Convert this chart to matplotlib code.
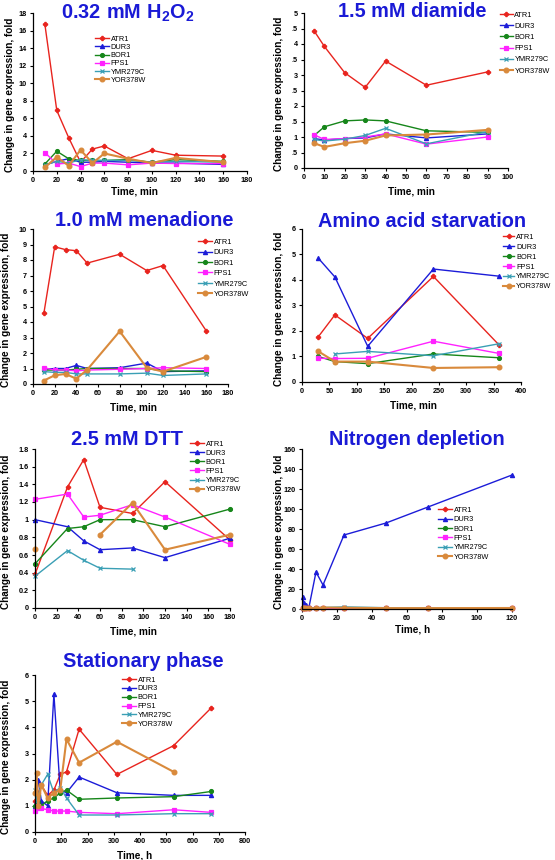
import numpy as np
import matplotlib
matplotlib.use('Agg')
import matplotlib.pyplot as plt

plt.rcParams['font.family'] = ['Liberation Sans', 'DejaVu Sans']
plt.rcParams['mathtext.fontset'] = 'custom'
plt.rcParams['mathtext.rm'] = 'Liberation Sans:bold'
plt.rcParams['mathtext.bf'] = 'Liberation Sans:bold'

nan = np.nan

genes = ['ATR1', 'DUR3', 'BOR1', 'FPS1', 'YMR279C', 'YOR378W']
colors = ['#e8241e', '#1c1cd8', '#16861a', '#ff22ff', '#3a9fb5', '#d98a3c']
markers = ['P', '^', 'o', 's', 'x', 'o']
msizes = [3.0, 3.0, 2.8, 2.6, 3.0, 3.4]
lwidths = [1.0, 1.0, 1.0, 1.0, 1.0, 1.5]

# 0.32 mM H2O2
h2o2_t = [10, 20, 30, 40, 50, 60, 80, 100, 120, 160]
h2o2_vals = [
    [16.7, 6.9, 3.8, 1.0, 2.5, 2.85, 1.4, 2.35, 1.8, 1.7],
    [0.7, 1.1, 1.4, 1.0, 1.0, 1.1, 1.0, 0.9, 0.9, 0.75],
    [0.8, 2.25, 1.4, 1.2, 1.2, 1.2, 1.3, 1.0, 1.3, 1.1],
    [2.1, 0.8, 0.9, 0.5, 0.9, 0.9, 0.7, 0.9, 0.85, 0.85],
    [0.7, 1.1, 0.9, 1.3, 1.2, 1.2, 1.2, 1.0, 1.1, 1.0],
    [0.4, 1.6, 0.6, 2.4, 0.9, 2.0, 1.4, 0.9, 1.5, 1.0],
]

# 1.5 mM diamide
diamide_t = [5, 10, 20, 30, 40, 60, 90]
diamide_vals = [
    [4.42, 3.92, 3.07, 2.6, 3.45, 2.67, 3.1],
    [0.95, 0.9, 0.95, 0.97, 1.1, 0.97, 1.1],
    [1.05, 1.33, 1.52, 1.55, 1.52, 1.2, 1.15],
    [1.07, 0.92, 0.95, 1.0, 1.1, 0.77, 1.0],
    [0.92, 0.87, 0.93, 1.05, 1.28, 0.78, 1.17],
    [0.8, 0.68, 0.8, 0.88, 1.05, 1.08, 1.23],
]

# 1.0 mM menadione
menadione_t = [10, 20, 30, 40, 50, 80, 105, 120, 160]
menadione_vals = [
    [4.55, 8.85, 8.67, 8.6, 7.8, 8.37, 7.32, 7.64, 3.42],
    [0.95, 1.0, 1.0, 1.2, 1.0, 1.05, 1.35, 0.8, 0.85],
    [0.9, 0.9, 0.9, 0.95, 1.0, 1.0, 1.0, 0.85, 0.8],
    [1.05, 0.9, 0.9, 0.85, 0.9, 0.95, 1.0, 1.05, 1.0],
    [0.8, 0.75, 0.75, 0.65, 0.65, 0.65, 0.7, 0.55, 0.65],
    [0.22, 0.56, 0.65, 0.34, 0.92, 3.4, 1.05, 0.8, 1.75],
]

# Amino acid starvation
amino_t = [30, 60, 120, 240, 360]
amino_vals = [
    [1.78, 2.63, 1.71, 4.14, 1.45],
    [4.85, 4.12, 1.4, 4.43, 4.15],
    [1.0, 0.8, 0.72, 1.1, 0.95],
    [0.93, 0.92, 0.93, 1.6, 1.12],
    [nan, 1.1, 1.2, 1.03, 1.5],
    [1.2, 0.8, 0.8, 0.55, 0.58],
]

# 2.5 mM DTT
dtt_t = [0, 30, 45, 60, 90, 120, 180]
dtt_vals = [
    [0.38, 1.37, 1.68, 1.14, 1.07, 1.43, 0.77],
    [1.0, 0.92, 0.76, 0.66, 0.68, 0.57, 0.79],
    [0.5, 0.9, 0.92, 1.0, 1.0, 0.92, 1.12],
    [1.23, 1.29, 1.03, 1.05, 1.17, 1.03, 0.72],
    [0.36, 0.65, 0.54, 0.45, 0.44, nan, nan],
    [0.67, nan, nan, 0.83, 1.19, 0.66, 0.83],
]

# Nitrogen depletion
nitrogen_t = [0.5, 1, 2, 4, 8, 12, 24, 48, 72, 120]
nitrogen_vals = [
    [1.2, 1.0, 0.9, 1.1, 1.0, 1.3, 1.2, 1.0, 1.1, 1.0],
    [12, 6, 4, 2, 37, 24, 74, 86, 102, 134],
    [1.0, 1.1, 1.0, 0.9, 1.2, 1.1, 1.0, 1.0, 1.1, 1.0],
    [0.8, 0.8, 0.9, 0.8, 0.7, 0.8, 0.8, 0.9, 0.8, 0.8],
    [1.5, 1.2, 1.0, 1.0, 1.4, 1.5, 2.1, 1.3, 1.2, 1.0],
    [0.8, 0.9, 1.0, 0.7, 0.9, 1.5, 1.2, 0.9, 0.9, 1.0],
]

# Stationary phase
stationary_t = [0, 6, 12, 24, 48, 72, 96, 120, 168, 312, 528, 672]
stationary_vals = [
    [1.2, 1.0, 1.5, 1.8, 1.4, 1.6, 2.2, 2.3, 3.93, 2.2, 3.3, 4.75],
    [1.0, 1.5, 2.0, 1.2, 1.0, 5.27, 1.6, 1.5, 2.1, 1.5, 1.4, 1.4],
    [1.0, 1.2, 1.4, 1.0, 1.2, 1.3, 1.5, 1.6, 1.25, 1.3, 1.35, 1.55],
    [0.8, 0.9, 1.0, 0.9, 0.85, 0.8, 0.8, 0.8, 0.75, 0.7, 0.85, 0.75],
    [1.6, 1.2, 1.4, 1.8, 2.2, 1.5, 1.7, 1.3, 0.65, 0.65, 0.7, 0.7],
    [1.5, 2.25, 1.0, 1.8, 1.3, 1.5, 1.6, 3.55, 2.65, 3.45, 2.3, nan],
]

W, H = 555, 860
fig = plt.figure(figsize=(W / 100, H / 100), dpi=100)


def fx(x):
    return x / W


def fy(y):
    return 1 - y / H


panels = [
    dict(title=r'$\mathbf{0.32\ mM\ H_2O_2}$', t=h2o2_t, vals=h2o2_vals,
         box=(33, 13, 247, 171), xlim=(0, 180, 20), ylim=(0, 18, 2),
         title_xy=(128, 19), xlab='Time, min', xlab_xy=(134, 191), ylab_x=10,
         leg=(95, 35.5), ls=0.15, hl=1.9),
    dict(title='1.5 mM diamide', t=diamide_t, vals=diamide_vals,
         box=(304, 13, 508, 168), xlim=(0, 100, 10), ylim=(0, 5, 0.5),
         title_xy=(412, 17), xlab='Time, min', xlab_xy=(411, 191), ylab_x=279,
         leg=(500, 11.5), ls=0.55, hl=1.7, half_labels=True),
    dict(title='1.0 mM menadione', t=menadione_t, vals=menadione_vals,
         box=(33, 229, 228, 384), xlim=(0, 180, 20), ylim=(0, 10, 1),
         title_xy=(144, 226), xlab='Time, min', xlab_xy=(133, 407), ylab_x=6,
         leg=(198, 238.5), ls=0.45, hl=1.9),
    dict(title='Amino acid starvation', t=amino_t, vals=amino_vals,
         box=(302, 229, 521, 382), xlim=(0, 400, 50), ylim=(0, 6, 1),
         title_xy=(422, 227), xlab='Time, min', xlab_xy=(413, 406), ylab_x=279,
         leg=(503, 233.5), ls=0.38, hl=1.5),
    dict(title='2.5 mM DTT', t=dtt_t, vals=dtt_vals,
         box=(35, 449, 230, 608), xlim=(0, 180, 20), ylim=(0, 1.8, 0.2),
         title_xy=(127, 445), xlab='Time, min', xlab_xy=(133, 631), ylab_x=6,
         leg=(190, 440.5), ls=0.27, hl=1.9),
    dict(title='Nitrogen depletion', t=nitrogen_t, vals=nitrogen_vals,
         box=(302, 449, 512, 609), xlim=(0, 120, 20), ylim=(0, 160, 20),
         title_xy=(417, 445), xlab='Time, h', xlab_xy=(413, 630), ylab_x=279,
         leg=(438, 506.5), ls=0.31, hl=1.9),
    dict(title='Stationary phase', t=stationary_t, vals=stationary_vals,
         box=(35, 675, 245, 832), xlim=(0, 800, 100), ylim=(0, 6, 1),
         title_xy=(143, 667), xlab='Time, h', xlab_xy=(135, 855), ylab_x=6,
         leg=(122, 676.5), ls=0.23, hl=1.9),
]

for p in panels:
    x0, y0, x1, y1 = p['box']
    ax = fig.add_axes([fx(x0), fy(y1), (x1 - x0) / W, (y1 - y0) / H])
    for i, g in enumerate(genes):
        ax.plot(p['t'], p['vals'][i], color=colors[i], marker=markers[i],
                ms=msizes[i], lw=lwidths[i], mew=0.9, label=g, clip_on=False)

    xa, xb, xs = p['xlim']
    ya, yb, ys = p['ylim']
    ax.set_xlim(xa, xb)
    ax.set_ylim(ya, yb)
    xt = np.arange(xa, xb + xs / 2, xs)
    yt = np.arange(ya, yb + ys / 2, ys)
    ax.set_xticks(xt)
    ax.set_xticklabels([f'{v:g}' for v in xt])
    ax.set_yticks(yt)
    if p.get('half_labels'):
        ax.set_yticklabels([f'{v:g}' if v == int(v) else '.5' for v in yt])
    else:
        ax.set_yticklabels([f'{v:g}' for v in yt])

    for s in ['top', 'right']:
        ax.spines[s].set_visible(False)
    for s in ['left', 'bottom']:
        ax.spines[s].set_linewidth(0.9)
    ax.tick_params(direction='out', length=2.5, width=0.8, pad=2,
                   labelsize=5.2)
    for lab in ax.get_xticklabels() + ax.get_yticklabels():
        lab.set_fontweight('bold')
    ax.patch.set_alpha(0)

    tx, ty = p['title_xy']
    fig.text(fx(tx), fy(ty), p['title'], ha='center', va='baseline',
             fontsize=14.3, fontweight='bold', color='#1a1ad6')
    lx, lyy = p['xlab_xy']
    fig.text(fx(lx), fy(lyy), p['xlab'], ha='center', va='center',
             fontsize=7.2, fontweight='bold')
    fig.text(fx(p['ylab_x']), fy((y0 + y1) / 2 + 3),
             'Change in gene expression, fold', rotation=90,
             ha='center', va='center', fontsize=7.2, fontweight='bold')

    gx, gy = p['leg']
    ax.legend(loc='upper left', bbox_to_anchor=(fx(gx), fy(gy)),
              bbox_transform=fig.transFigure, frameon=False, borderpad=0,
              borderaxespad=0, handlelength=p['hl'], handletextpad=0.25,
              labelspacing=p['ls'], prop=dict(size=5.3))

fig.savefig('out.png', dpi=100)
